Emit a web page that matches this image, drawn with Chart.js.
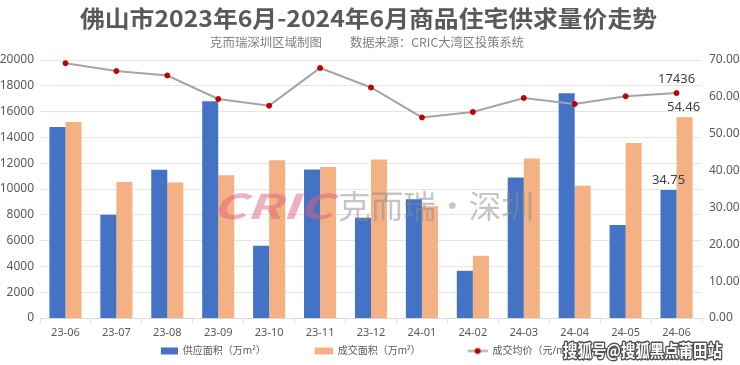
<!DOCTYPE html>
<html>
<head>
<meta charset="utf-8">
<script src="https://cdn.jsdelivr.net/npm/chart.js@4.4.1/dist/chart.umd.min.js"></script>
<style>
html,body{margin:0;padding:0;background:#fff;}
#wrap{width:740px;height:365px;position:relative;}
</style>
</head>
<body>
<div id="wrap"><canvas id="c" width="740" height="365"></canvas></div>
<script>
const categories = ['23-06','23-07','23-08','23-09','23-10','23-11','23-12','24-01','24-02','24-03','24-04','24-05','24-06'];
const supplyArea = [51.8, 28.0, 40.25, 58.8, 19.6, 40.3, 27.2, 32.2, 12.8, 38.1, 61.0, 25.2, 34.75];
const dealArea = [53.2, 36.9, 36.75, 38.7, 42.8, 41.0, 43.0, 30.3, 16.9, 43.3, 35.9, 47.5, 54.46];
const avgPrice = [19750, 19140, 18800, 16980, 16460, 19380, 17870, 15550, 15970, 17060, 16590, 17190, 17436];
const leftTicks = [0, 2000, 4000, 6000, 8000, 10000, 12000, 14000, 16000, 18000, 20000];
const rightTicks = [0, 10, 20, 30, 40, 50, 60, 70];
const titleText = '佛山市2023年6月-2024年6月商品住宅供求量价走势';
const subLeft = '克而瑞深圳区域制图';
const subRight = '数据来源：CRIC大湾区投策系统';
const stampText = '搜狐号@搜狐黑点莆田站';

const FONT = '"Noto Sans CJK SC", "Noto Sans", sans-serif';
const LFONT = '"Noto Sans", "Noto Sans CJK SC", sans-serif';

const SW = 57;
function swatch(draw) {
  const c = document.createElement('canvas');
  c.width = SW; c.height = 9;
  draw(c.getContext('2d'));
  return c;
}
const blueSw = swatch(g => { g.fillStyle = '#4472c4'; g.fillRect(SW - 17, 1, 17, 7); });
const orangeSw = swatch(g => { g.fillStyle = '#f4b183'; g.fillRect(SW - 18, 1, 18, 7); });
const lineSw = swatch(g => {
  g.strokeStyle = '#a5a5a5'; g.lineWidth = 2; g.beginPath(); g.moveTo(SW - 20, 4.5); g.lineTo(SW, 4.5); g.stroke();
  g.fillStyle = '#c00000'; g.beginPath(); g.arc(SW - 10, 4.5, 3, 0, Math.PI * 2); g.fill();
});

function drawFit(ctx, text, cx, cy, width) {
  const m = ctx.measureText(text).width;
  ctx.save();
  ctx.translate(cx, cy);
  ctx.scale(width / m, 1);
  ctx.textAlign = 'center';
  ctx.textBaseline = 'middle';
  ctx.fillText(text, 0, 0);
  ctx.restore();
}

const labelPlugin = {
  id: 'labels',
  afterLayout(chart) {
    if (chart.legend) {
      chart.legend.left -= 20; chart.legend.right -= 20;
      chart.legend.top -= 6; chart.legend.bottom -= 6;
    }
  },
  beforeDraw(chart) {
    const ctx = chart.ctx;
    ctx.save();
    ctx.fillStyle = '#595959';
    ctx.font = 'bold 23px ' + FONT;
    drawFit(ctx, titleText, 368.5, 18, 577);
    ctx.fillStyle = '#7f7f7f';
    ctx.font = '12px ' + FONT;
    drawFit(ctx, subLeft, 266, 42, 112);
    drawFit(ctx, subRight, 437, 42, 174);
    ctx.restore();
  },
  afterDatasetsDraw(chart) {
    const ctx = chart.ctx;
    ctx.save();
    ctx.globalAlpha = 0.5;
    ctx.font = 'italic bold 34px ' + FONT;
    const g = ctx.createLinearGradient(210, 0, 335, 0);
    g.addColorStop(0, '#e0607a');
    g.addColorStop(1, '#e8503a');
    ctx.fillStyle = g;
    drawFit(ctx, 'CRIC', 272.5, 206, 121);
    ctx.fillStyle = '#8c8c8c';
    ctx.font = '32px ' + FONT;
    drawFit(ctx, '克而瑞·深圳', 436, 206, 196);
    ctx.restore();

    ctx.save();
    ctx.font = '13px ' + LFONT;
    ctx.fillStyle = '#404040';
    ctx.textAlign = 'center';
    ctx.textBaseline = 'bottom';
    const last = categories.length - 1;
    const m0 = chart.getDatasetMeta(0).data[last];
    const m1 = chart.getDatasetMeta(1).data[last];
    const m2 = chart.getDatasetMeta(2).data[last];
    ctx.fillText(supplyArea[last].toFixed(2), m0.x, m0.y - 3);
    ctx.fillText(dealArea[last].toFixed(2), m1.x - 1, m1.y - 3);
    ctx.fillText(String(avgPrice[last]), m2.x, m2.y - 7);
    ctx.restore();
  },
  afterDraw(chart) {
    const ctx = chart.ctx;
    ctx.save();
    ctx.font = 'bold 17px ' + FONT;
    ctx.lineWidth = 3;
    ctx.strokeStyle = 'rgba(50,50,50,0.85)';
    ctx.lineJoin = 'round';
    const m = ctx.measureText(stampText).width;
    ctx.translate(642.5, 351);
    ctx.scale(159 / m, 1);
    ctx.textAlign = 'center';
    ctx.textBaseline = 'middle';
    ctx.strokeText(stampText, 0, 0);
    ctx.fillStyle = '#ffffff';
    ctx.fillText(stampText, 0, 0);
    ctx.restore();
  }
};

new Chart(document.getElementById('c'), {
  type: 'bar',
  data: {
    labels: categories,
    datasets: [
      { type: 'bar', label: '供应面积（万m²）', data: supplyArea, backgroundColor: '#4472c4', yAxisID: 'y1', order: 2,
        categoryPercentage: 0.63, barPercentage: 1.0 },
      { type: 'bar', label: '成交面积（万m²）', data: dealArea, backgroundColor: '#f4b183', yAxisID: 'y1', order: 2,
        categoryPercentage: 0.63, barPercentage: 1.0 },
      { type: 'line', label: '成交均价（元/m²）', data: avgPrice, yAxisID: 'y', order: 1,
        borderColor: '#a5a5a5', borderWidth: 2, pointRadius: 2.5, pointBorderWidth: 1,
        pointBackgroundColor: '#c00000', pointBorderColor: '#c00000', tension: 0 }
    ]
  },
  options: {
    responsive: false,
    animation: false,
    layout: { padding: { left: 0, right: 0, top: 60, bottom: -7 } },
    plugins: {
      title: { display: false },
      legend: { position: 'bottom',
        labels: { color: '#595959', font: { family: LFONT, size: 10 }, padding: 10,
          usePointStyle: true, pointStyleWidth: SW,
          sort: (a, b) => a.datasetIndex - b.datasetIndex,
          generateLabels(chart) {
            const items = Chart.defaults.plugins.legend.labels.generateLabels(chart);
            items.forEach(it => {
              if (it.datasetIndex === 0) it.pointStyle = blueSw;
              if (it.datasetIndex === 1) it.pointStyle = orangeSw;
              if (it.datasetIndex === 2) it.pointStyle = lineSw;
            });
            return items;
          } } },
      tooltip: { enabled: false }
    },
    scales: {
      x: {
        ticks: { color: '#595959', font: { family: LFONT, size: 11 }, padding: 3 },
        grid: { display: true, drawOnChartArea: false, drawTicks: true, tickLength: 5, color: '#d9d9d9', offset: true },
        border: { color: '#d9d9d9' },
        afterFit(s) { s.height = 24; }
      },
      y: {
        position: 'left', min: 0, max: 20000,
        afterBuildTicks(s) { s.ticks = leftTicks.map(v => ({ value: v })); },
        ticks: { color: '#595959', font: { family: LFONT, size: 12 }, padding: 6, callback: v => String(v) },
        grid: { color: '#e6e6e6', drawTicks: false },
        border: { display: false },
        afterFit(s) { s.width = 40; }
      },
      y1: {
        position: 'right', min: 0, max: 70,
        afterBuildTicks(s) { s.ticks = rightTicks.map(v => ({ value: v })); },
        ticks: { color: '#595959', font: { family: LFONT, size: 12 }, padding: 7, callback: v => Number(v).toFixed(2) },
        grid: { display: false, drawTicks: false },
        border: { display: false },
        afterFit(s) { s.width = 38; }
      }
    }
  },
  plugins: [labelPlugin]
});
</script>
</body>
</html>
